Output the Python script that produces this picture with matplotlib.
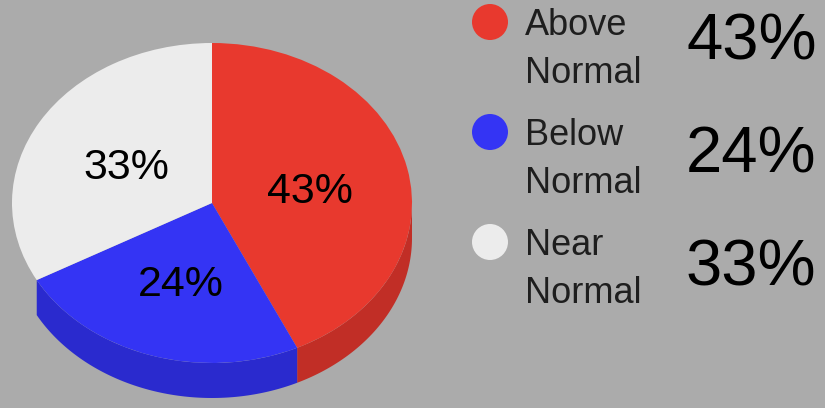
"""3D-style pie of outlook probabilities with a side legend."""
import numpy as np
import matplotlib
matplotlib.use("Agg")
import matplotlib.pyplot as plt
from matplotlib.patches import Circle, Polygon

categories = ["Above\nNormal", "Below\nNormal", "Near\nNormal"]
values = [43, 24, 33]
pct_labels = ["43%", "24%", "33%"]

top_colors = ["#e8392e", "#3434f4", "#ececec"]
side_colors = ["#c12e26", "#2a2ace", None]   # white slice shows no side
BG = "#ababab"
FONT = ["Liberation Sans", "DejaVu Sans"]

W, H = 825, 408
fig = plt.figure(figsize=(W / 100, H / 100), dpi=100, facecolor=BG)

# ── pie: ellipse centre (212, 203) px, rx 200, ry 160, depth 35 ──────────
cx, cy, rx, ry, depth = 212, 203, 200, 160, 35
ax = fig.add_axes([0, (H - 2 * cy) / H, 2 * cx / W, 2 * cy / H])
wedges, _, autotexts = ax.pie(
    values, colors=top_colors, startangle=90, counterclock=False,
    autopct=lambda p: f"{p:.0f}%", pctdistance=0.5,
    wedgeprops=dict(linewidth=0), textprops=dict(family=FONT, size=31))
ax.set_aspect("auto")
ax.set_xlim(-cx / rx, cx / rx)
ax.set_ylim(-cy / ry, cy / ry)
ax.axis("off")
for t in autotexts:          # labels sit a touch lower in the original
    x, y = t.get_position()
    t.set_position((x, y - 6 / ry))

d = depth / ry
for w, sc in zip(wedges, side_colors):
    if sc is None:
        continue
    # visible side = part of the arc in the front (lower) half
    for off in (0, -360, 360):
        lo = max(w.theta1 + off, -180)
        hi = min(w.theta2 + off, 0)
        if hi <= lo:
            continue
        t = np.radians(np.linspace(lo, hi, 100))
        xs, ys = np.cos(t), np.sin(t)
        pts = np.column_stack([np.r_[xs, xs[::-1]], np.r_[ys, ys[::-1] - d]])
        ax.add_patch(Polygon(pts, closed=True, fc=sc, ec="none", zorder=0))

# ── legend + big percentages, in pixel coordinates ───────────────────────
lx = fig.add_axes([0, 0, 1, 1])
lx.set_xlim(0, W)
lx.set_ylim(H, 0)
lx.axis("off")
lx.patch.set_alpha(0)

for i, (cat, col, pct) in enumerate(zip(categories, top_colors, pct_labels)):
    y0 = 22 + i * 110
    lx.add_patch(Circle((490, y0), 18, fc=col, ec="none"))
    for j, line in enumerate(cat.split("\n")):
        lx.text(525, y0 + 13 + j * 48, line, family=FONT, size=26,
                color="#1e1e1e", va="baseline", ha="left")
    lx.text(686, 60 + i * 112.5, pct, family=FONT, size=47,
            color="black", va="baseline", ha="left")

fig.savefig("out.png", dpi=100, facecolor=BG)
